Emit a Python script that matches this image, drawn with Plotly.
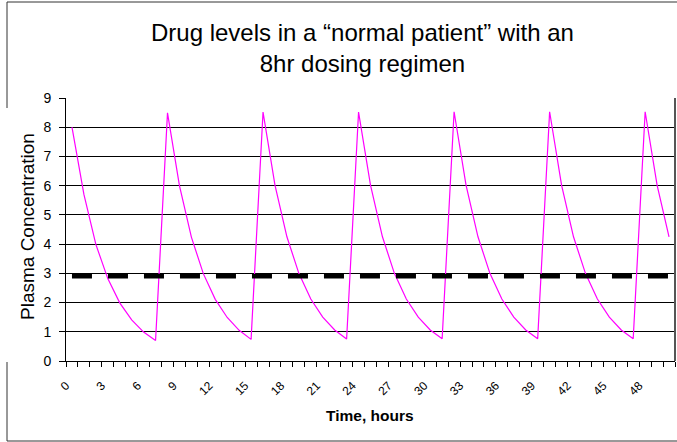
import plotly.graph_objects as go

# ---- data ----
hours = list(range(0, 51))
concentration = [
    8.00, 5.70, 3.99, 2.82, 1.99, 1.41, 0.99, 0.70,
    8.49, 6.00, 4.24, 2.99, 2.11, 1.49, 1.05, 0.74,
    8.52, 6.02, 4.25, 3.00, 2.12, 1.50, 1.06, 0.75,
    8.52, 6.02, 4.25, 3.00, 2.12, 1.50, 1.06, 0.76,
    8.53, 6.02, 4.25, 3.00, 2.12, 1.50, 1.06, 0.76,
    8.53, 6.02, 4.25, 3.00, 2.12, 1.50, 1.06, 0.76,
    8.53, 6.02, 4.25,
]
threshold = [2.9] * len(hours)
x_tick_vals = list(range(0, 49, 3))
x_tick_text = [str(v) for v in x_tick_vals]
y_tick_vals = list(range(0, 10))

W, H = 677, 442
L, R, T, B = 66, 2, 98, 81
pw, ph = W - L - R, H - T - B


def px(x):
    return (x - L) / pw


def py(y):
    return (H - B - y) / ph


fig = go.Figure()
fig.add_trace(go.Scatter(
    x=hours, y=concentration, mode="lines",
    line=dict(color="#FF00FF", width=1.2), showlegend=False,
))
fig.add_trace(go.Scatter(
    x=hours, y=threshold, mode="lines",
    line=dict(color="black", width=4.5, dash="20px,16px"), showlegend=False,
))

font = "Liberation Sans, Arial, sans-serif"

fig.update_layout(
    width=W, height=H,
    margin=dict(l=L, r=R, t=T, b=B),
    paper_bgcolor="white", plot_bgcolor="white",
    font=dict(family=font, color="black"),
    xaxis=dict(
        range=[-0.5, 50.5],
        tickmode="array", tickvals=x_tick_vals, ticktext=x_tick_text,
        tickangle=-45, tickfont=dict(size=12, family=font),
        ticks="", showgrid=False, zeroline=False,
        showline=True, linecolor="black", linewidth=1,
        ticklabelstandoff=12, ticklabelshift=-6,
        minor=dict(tickmode="linear", tick0=0.5, dtick=1, ticks="outside",
                   ticklen=5, tickcolor="black", tickwidth=1, showgrid=False),
    ),
    yaxis=dict(
        range=[0, 9], tickmode="array", tickvals=y_tick_vals,
        tickfont=dict(size=14, family=font),
        ticks="outside", ticklen=6, tickcolor="black",
        ticklabelstandoff=5,
        showgrid=True, gridcolor="black", gridwidth=1,
        zeroline=False, showline=True, linecolor="black", linewidth=1,
    ),
    annotations=[
        dict(text="Drug levels in a “normal patient” with an<br>8hr dosing regimen",
             xref="paper", yref="paper", x=px(362), y=py(48),
             xanchor="center", yanchor="middle", showarrow=False,
             font=dict(size=24, family=font, color="black")),
        dict(text="Plasma Concentration", textangle=-90,
             xref="paper", yref="paper", x=px(27), y=py(227),
             xanchor="center", yanchor="middle", showarrow=False,
             font=dict(size=19, family=font, color="black")),
        dict(text="<b>Time, hours</b>",
             xref="paper", yref="paper", x=px(370), y=py(415),
             xanchor="center", yanchor="middle", showarrow=False,
             font=dict(size=15.5, family="Liberation Sans Narrow, Arial Narrow, Liberation Sans, sans-serif",
                       color="black")),
    ],
    shapes=[
        # chart border
        dict(type="line", xref="paper", yref="paper", x0=px(7), x1=px(677), y0=py(2), y1=py(2),
             line=dict(color="#333333", width=1)),
        dict(type="line", xref="paper", yref="paper", x0=px(7), x1=px(7), y0=py(2), y1=py(108),
             line=dict(color="#333333", width=1)),
        dict(type="line", xref="paper", yref="paper", x0=px(7), x1=px(7), y0=py(362), y1=py(441),
             line=dict(color="#333333", width=1)),
        dict(type="line", xref="paper", yref="paper", x0=px(7), x1=px(677), y0=py(441), y1=py(441),
             line=dict(color="#333333", width=1)),
        # plot area right border
        dict(type="line", xref="paper", yref="paper", x0=1, x1=1, y0=0, y1=1,
             line=dict(color="#555555", width=2)),
    ],
)

fig.write_html(
    "out.html",
    config={"displayModeBar": False},
    post_script="document.body.style.margin='0';document.body.style.overflow='hidden';",
)
